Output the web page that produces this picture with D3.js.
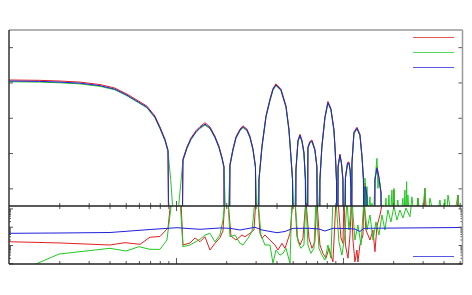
<!DOCTYPE html>
<html><head><meta charset="utf-8">
<script src="https://cdn.jsdelivr.net/npm/d3@7"></script>
<style>body{margin:0;background:#fff}svg{display:block}</style>
</head><body><svg id="c" width="472" height="295"></svg>
<script>
// ---- data: [frequency, level dB] (top) and [frequency, error] (bottom)
const blueTop = [[1,-9.6],[1.53,-9.7],[2.02,-9.9],[2.66,-10.2],[3.51,-10.9],[4.31,-11.9],[5.09,-13.6],[6.09,-15.8],[6.7,-17.0],[7.48,-19.8],[8.02,-22.9],[8.59,-26.3],[8.96,-29.4],[9.14,-80],
 [10.79,-80],[11.01,-32.0],[11.64,-28.5],[12.3,-26.0],[13.17,-24.0],[13.93,-22.8],[14.92,-21.8],[15.98,-22.9],[17.12,-25.5],[18.08,-28.3],[18.85,-31.4],[19.38,-34.0],[19.51,-80],
 [20.76,-80],[21.05,-33.5],[21.94,-29.1],[22.87,-25.7],[24.17,-23.5],[25.19,-22.6],[26.61,-23.5],[27.74,-25.5],[28.92,-29.0],[29.93,-34.0],[30.35,-80],
 [31.1,-80],[31.41,-37.6],[32.74,-28.2],[34.6,-19.7],[36.55,-15.0],[38.1,-12.0],[39.7,-10.7],[42.5,-12.1],[45.6,-16.9],[47.5,-23.5],[48.8,-31.0],[49.9,-37.6],[50.3,-80],
 [52.0,-80],[52.3,-34.8],[53.8,-26.6],[55.3,-25.0],[56.8,-26.6],[58.4,-30.0],[59.6,-37.6],[60.0,-80],
 [61.3,-80],[61.7,-28.5],[63.4,-27.0],[65.2,-26.6],[67.9,-29.1],[69.8,-33.9],[70.5,-80],
 [72.5,-80],[72.8,-37.6],[74.8,-28.2],[78.0,-20.0],[81.3,-15.7],[84.7,-17.6],[88.3,-23.5],[90.0,-30.0],[91.5,-38.0],[92.0,-80],
 [93.0,-80],[93.5,-33.9],[95.9,-30.6],[97.9,-32.8],[100,-37.6],[101,-80],
 [101.8,-80],[103.5,-37.0],[106.5,-33.0],[108.6,-32.8],[110.5,-35.0],[111.6,-40.0],[112,-80],
 [112.8,-80],[113.2,-33.0],[116.4,-24.3],[121.3,-23.0],[126.4,-24.9],[130,-31.0],[132.7,-37.6],[133.5,-80],
 [134.8,-80],[135.5,-39.5],[137,-40.0],[139.3,-42.4],[140.5,-80],
 [154,-80],[155.5,-37.6],[159.9,-34.3],[164.3,-37.0],[169,-41.3],[170,-80],[520,-80]];

const redTop = [[1,-9.3],[1.53,-9.4],[2.02,-9.6],[2.66,-9.9],[3.51,-10.6],[4.31,-11.6],[5.09,-13.3],[6.09,-15.5],[6.7,-16.7],[7.48,-19.5],[8.02,-22.6],[8.59,-26.0],[8.96,-29.1],[9.14,-80],
 [10.79,-80],[11.01,-31.7],[11.64,-28.2],[12.3,-25.7],[13.17,-23.7],[13.93,-22.5],[14.92,-21.4],[15.98,-22.6],[17.12,-25.2],[18.08,-28.0],[18.85,-31.1],[19.38,-33.7],[19.51,-80],
 [20.76,-80],[21.05,-33.2],[21.94,-28.8],[22.87,-25.4],[24.17,-23.2],[25.19,-22.3],[26.61,-23.2],[27.74,-25.2],[28.92,-28.7],[29.93,-33.7],[30.35,-80],
 [31.1,-80],[31.41,-37.3],[32.74,-27.9],[34.6,-19.4],[36.55,-14.7],[38.1,-11.7],[39.7,-10.4],[42.5,-11.8],[45.6,-16.6],[47.5,-23.2],[48.8,-30.7],[49.9,-37.3],[50.3,-80],
 [52.0,-80],[52.3,-34.5],[53.8,-26.3],[55.3,-24.7],[56.8,-26.3],[58.4,-29.7],[59.6,-37.3],[60.0,-80],
 [61.3,-80],[61.7,-28.2],[63.4,-26.7],[65.2,-26.3],[67.9,-28.8],[69.8,-33.6],[70.5,-80],
 [72.5,-80],[72.8,-37.3],[74.8,-27.9],[78.0,-19.7],[81.3,-15.4],[84.7,-17.3],[88.3,-23.2],[90.0,-29.7],[91.5,-37.7],[92.0,-80],
 [93.0,-80],[93.5,-33.6],[95.9,-30.3],[97.9,-32.5],[100,-37.3],[101,-80],
 [101.8,-80],[103.5,-36.7],[106.5,-32.7],[108.6,-32.5],[110.5,-34.7],[111.6,-39.7],[112,-80],
 [112.8,-80],[113.2,-32.7],[116.4,-24.0],[121.3,-22.7],[126.4,-24.6],[130,-30.7],[132.7,-37.3],[133.5,-80],
 [134.8,-80],[135.5,-38.5],[137,-39.7],[139.3,-42.1],[140.5,-80],
 [154,-80],[155.5,-37.3],[159.9,-33.8],[164.3,-36.7],[169,-41.0],[170,-80],[199,-80],[202,-40.5],[205,-80],
 [278,-80],[281.3,-42.8],[284,-80],[306,-80],[309.7,-40.0],[313,-80],[484,-80],[488.5,-41.9],[493,-80],[520,-80]];

const greenTop = [[1,-9.8],[1.53,-9.9],[2.02,-10.1],[2.66,-10.4],[3.51,-11.1],[4.31,-12.1],[5.09,-13.8],[6.09,-16.0],[6.7,-17.2],[7.48,-20.0],[8.02,-23.1],[8.59,-26.5],[8.96,-29.6],
 [9.3,-37.5],[9.6,-47],[10.28,-47],[11.01,-32.2],
 [11.64,-28.7],[12.3,-26.2],[13.17,-24.2],[13.93,-23.0],[14.92,-22.1],[15.98,-23.1],[17.12,-25.7],[18.08,-28.5],[18.85,-31.6],[19.38,-34.2],
 [19.9,-50],[20.5,-50],
 [21.05,-33.7],[21.94,-29.3],[22.87,-25.9],[24.17,-23.7],[25.19,-22.8],[26.61,-23.7],[27.74,-25.7],[28.92,-29.2],[29.93,-34.2],
 [30.7,-50],
 [31.41,-37.8],[32.74,-28.4],[34.6,-19.9],[36.55,-15.2],[38.1,-12.2],[39.7,-10.9],[42.5,-12.3],[45.6,-17.1],[47.5,-23.7],[48.8,-31.2],[49.9,-37.8],
 [51.2,-50],
 [52.3,-35.0],[53.8,-26.8],[55.3,-25.2],[56.8,-26.8],[58.4,-30.2],[59.6,-37.8],
 [60.6,-50],
 [61.7,-28.7],[63.4,-27.2],[65.2,-26.8],[67.9,-29.3],[69.8,-34.1],
 [71.6,-50],
 [72.8,-37.8],[74.8,-28.4],[78.0,-20.2],[81.3,-15.9],[84.7,-17.8],[88.3,-23.7],[90.0,-30.2],[91.5,-38.2],
 [92.5,-50],
 [93.5,-34.1],[95.9,-30.8],[97.9,-33.0],[100,-37.8],
 [101.4,-50],
 [103.5,-37.2],[106.5,-33.2],[108.6,-33.0],[110.5,-35.2],[111.6,-40.2],
 [112.4,-50],
 [113.2,-33.2],[116.4,-24.5],[121.3,-23.2],[126.4,-25.1],[130,-31.2],[132.7,-37.8],
 [134.3,-50],[135.5,-37.1],[137.5,-48],[139.3,-39.5],[141,-48],[145.2,-42.4],[147,-48],[149.2,-44.2],[152,-50],
 [155.5,-37.6],[159.9,-31.5],[162,-40],[164.3,-37.2],[169,-41.5],[171,-50],[173.8,-44.7],[177,-50],
 [180.9,-42.8],[184,-50],[188.5,-41.9],[192,-50],[196.5,-40.5],[199,-50],[202,-40.0],[206,-50],
 [213,-43.3],[220,-50],[228.7,-42.8],[232,-50],[235,-40.5],[238,-50],[240.6,-38.1],[243,-50],
 [244.9,-41.9],[250,-50],[258.8,-42.4],[270,-50],[281.3,-42.8],[295,-50],[309.7,-40.0],[320,-50],
 [331.9,-42.8],[360,-50],[381,-43.3],[395,-50],[408,-43.1],[415,-50],[425.6,-41.9],[455,-50],
 [488.5,-41.9],[500,-50],[520,-50]];

const blueErr = [[1,0.0435],[2.02,0.0453],[4.03,0.0482],[6.99,0.0703],[10.14,0.088],[13.93,0.0721],[18.34,0.085],
 [21.05,0.0818],[24.17,0.066],[29.72,0.093],[32.74,0.066],[40.26,0.047],[44.97,0.0547],[50.2,0.0818],
 [63.4,0.0818],[71.8,0.0748],[78.0,0.0582],[87.1,0.0818],[102.8,0.08],[118.0,0.0748],[126.4,0.0547],
 [133.6,0.0818],[520,0.0904]];

const redErr = [[1,0.0151],[2.02,0.0129],[4.03,0.010],[4.95,0.0134],[6.09,0.0109],[6.99,0.0267],[8.02,0.0291],
 [8.96,0.085],[9.33,3],[10.71,3],[11.01,0.010],[12.13,0.0129],[13.0,0.0242],[13.93,0.0151],[14.92,0.0284],
 [15.98,0.0053],[17.12,0.0124],[18.34,0.0251],[19.11,0.0582],[19.65,3],[20.48,3],[21.35,0.031],[22.87,0.0187],
 [24.85,0.0352],[25.9,0.0284],[27.74,0.0435],[29.31,0.066],[30.13,3],[30.97,3],[31.84,0.0435],[32.74,0.0232],
 [34.12,0.0352],[36.55,0.0187],[39.17,0.010],[40.82,0.0053],[43.14,0.0124],[44.97,0.0066],[48.18,0.0435],
 [50.2,3],[51.6,3],[53.05,0.0284],[55.3,0.010],[57.6,0.0232],[60.0,3],[62.57,0.0232],[65.2,0.0066],
 [67.9,0.0151],[69.8,3],[72.8,0.010],[75.9,0.0035],[79.1,0.0019],[82.5,0.0066],[87.1,0.0012],[90.8,3],
 [93.3,3],[97.3,0.0242],[100,0.0124],[101.5,3],[103.5,0.010],[107.2,0.0019],[110.2,0.0352],[112.5,3],
 [114.8,0.0187],[118.0,0.0012],[121.3,0.0053],[123.0,0.00118],[126.4,0.010],[131.8,0.0352],[133.5,3],
 [137.3,0.066],[145.2,0.0187],[151.3,0.066],[155.5,0.0043],[159.9,0.109],[166.6,0.435],[173.8,3],[520,3]];

const greenErr = [[1,0.00033],[1.451,0.00092],[1.993,0.0032],[4.025,0.0066],[5.02,0.0047],[6.0,0.0081],
 [6.99,0.0058],[8.02,0.0058],[8.83,0.0187],[9.21,0.435],[9.46,3],[10.57,3],[11.01,0.0081],[12.13,0.010],
 [13.93,0.0205],[14.92,0.0352],[15.98,0.0435],[17.12,0.0151],[18.34,0.0352],[19.11,0.232],[19.65,3],
 [20.48,3],[21.05,0.0284],[22.56,0.0352],[24.17,0.0124],[25.19,0.010],[26.98,0.0232],[28.52,0.0533],
 [29.72,3],[30.97,3],[32.29,0.0352],[34.12,0.010],[36.55,0.010],[38.1,0.0010],[39.7,0.0053],[41.97,0.0028],
 [43.74,0.0035],[45.6,0.0066],[48.18,0.0010],[49.5,3],[51.6,3],[53.8,0.0151],[56.04,0.0066],[58.4,0.010],
 [60.0,3],[61.7,0.010],[64.3,0.0035],[67.06,0.0066],[68.9,3],[71.8,0.0066],[74.8,0.0028],[78.0,0.0015],
 [81.3,0.010],[84.7,0.0019],[87.1,3],[90.8,3],[94.6,0.0151],[98.6,0.0028],[102.8,0.0352],[105.7,3],
 [108.6,0.066],[113.2,3],[118.0,0.0187],[123.0,0.124],[128.2,0.010],[133.6,3],[139.3,0.066],[145.2,0.435],
 [151.3,0.0187],[157.7,0.181],[164.3,0.0352],[171.3,0.435],[178.4,0.066],[185.9,0.82],[193.8,0.181],
 [202,1.3],[210.5,0.232],[219.4,0.82],[228.7,0.30],[238.4,1.05],[251.8,0.35],[258.8,3],[520,3]];

const xMajor = [10, 100];
const xMinor = [2,3,4,5,6,7,8,9,20,30,40,50,60,70,80,90,200,300,400,500];
const yTopTicks = [-40,-30,-20,-10,0];
const yErrMajor = [0.001,0.01,0.1,1];
const yErrMinor = [0.002,0.003,0.004,0.005,0.006,0.007,0.008,0.009,0.02,0.03,0.04,0.05,0.06,0.07,0.08,0.09,0.2,0.3,0.4,0.5,0.6,0.7,0.8,0.9];

const COL = {red:'#e02020', green:'#20c820', blue:'#2020d8'};
const L=9, R=462.5, T=30, M=206, B=264;

const svg = d3.select('#c');
const x = d3.scaleLog().domain([1,520]).range([L,R]);
const yT = d3.scaleLinear().domain([-45,5]).range([M,29.5]);
const yB = d3.scaleLog().domain([0.001,1]).range([263.3,208.4]);

const defs = svg.append('defs');
defs.append('clipPath').attr('id','ct').append('rect').attr('x',L).attr('y',T).attr('width',R-L).attr('height',M-T);
defs.append('clipPath').attr('id','cb').append('rect').attr('x',L).attr('y',M).attr('width',R-L).attr('height',B-M);

const lT = d3.line().x(d=>x(d[0])).y(d=>yT(d[1]));
const lB = d3.line().x(d=>x(d[0])).y(d=>yB(d[1]));

const gt = svg.append('g').attr('clip-path','url(#ct)');
[[redTop,COL.red],[greenTop,COL.green],[blueTop,COL.blue]].forEach(([d,c])=>{
  gt.append('path').datum(d).attr('d',lT).attr('fill','none').attr('stroke',c).attr('stroke-width',1);
});
const gb = svg.append('g').attr('clip-path','url(#cb)');
[[redErr,COL.red],[greenErr,COL.green],[blueErr,COL.blue]].forEach(([d,c])=>{
  gb.append('path').datum(d).attr('d',lB).attr('fill','none').attr('stroke',c).attr('stroke-width',1);
});

function ax(gen, tv, size, tr){
  svg.append('g').attr('transform',tr).attr('color','#555')
    .call(gen.tickValues(tv).tickSize(size).tickSizeOuter(0).tickFormat(''))
    .call(g=>g.select('.domain').remove());
}
// x ticks
ax(d3.axisTop(x), xMinor, 3, `translate(0,${M})`);
ax(d3.axisTop(x), xMajor, 5, `translate(0,${M})`);
ax(d3.axisBottom(x), xMinor, 3, `translate(0,${M})`);
ax(d3.axisBottom(x), xMajor, 5, `translate(0,${M})`);
ax(d3.axisTop(x), xMinor, 3, `translate(0,${B})`);
ax(d3.axisTop(x), xMajor, 6, `translate(0,${B})`);
// top y ticks
ax(d3.axisRight(yT), yTopTicks, 4, `translate(${L},0)`);
ax(d3.axisLeft(yT), yTopTicks, 4, `translate(${R},0)`);
// bottom y ticks
ax(d3.axisRight(yB), yErrMinor, 2, `translate(${L},0)`);
ax(d3.axisRight(yB), yErrMajor, 4, `translate(${L},0)`);
ax(d3.axisLeft(yB), yErrMinor, 2, `translate(${R},0)`);
ax(d3.axisLeft(yB), yErrMajor, 4, `translate(${R},0)`);

// frame
const fr = svg.append('g');
fr.append('line').attr('x1',L).attr('x2',R).attr('y1',T).attr('y2',T).attr('stroke','#999').attr('stroke-width',1.5);
fr.append('line').attr('x1',R).attr('x2',R).attr('y1',T).attr('y2',B).attr('stroke','#999').attr('stroke-width',1.5);
fr.append('line').attr('x1',L).attr('x2',L).attr('y1',T).attr('y2',B).attr('stroke','#333').attr('stroke-width',1.5);
fr.append('line').attr('x1',L).attr('x2',R).attr('y1',M).attr('y2',M).attr('stroke','#222').attr('stroke-width',1.5);
fr.append('line').attr('x1',L).attr('x2',R).attr('y1',B).attr('y2',B).attr('stroke','#222').attr('stroke-width',1.5);

// legends
const lg = svg.append('g');
[[COL.red,37.5],[COL.green,52.5],[COL.blue,67.5]].forEach(([c,yy])=>{
  lg.append('line').attr('x1',413).attr('x2',454).attr('y1',yy).attr('y2',yy).attr('stroke',c).attr('stroke-width',1).attr('opacity',0.75);
});
lg.append('line').attr('x1',413).attr('x2',454).attr('y1',256.5).attr('y2',256.5).attr('stroke',COL.blue).attr('stroke-width',1).attr('opacity',0.75);
</script></body></html>
